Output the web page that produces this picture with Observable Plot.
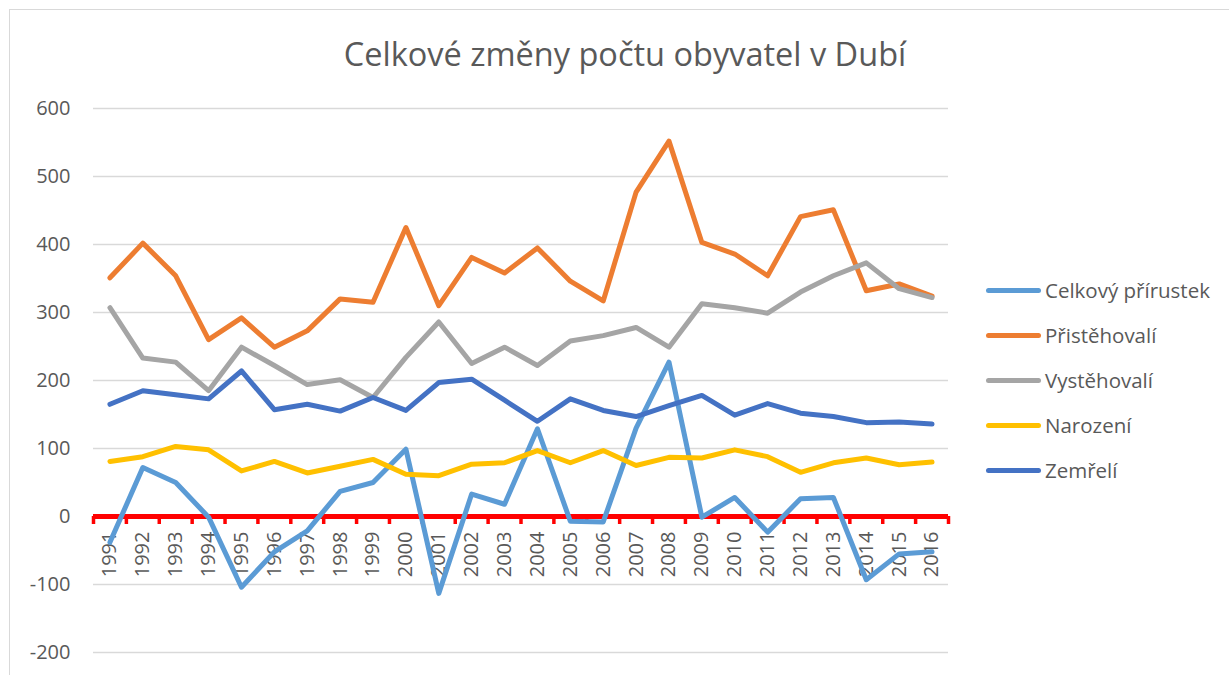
<!DOCTYPE html>
<html><head><meta charset="utf-8">
<script src="https://cdn.jsdelivr.net/npm/d3@7"></script>
<script src="https://cdn.jsdelivr.net/npm/@observablehq/plot@0.6"></script>
<style>
body{margin:0;background:#fff;font-family:"Open Sans",sans-serif;}
#wrap{position:relative;width:1229px;height:675px;overflow:hidden;background:#fff;}
#border{position:absolute;left:9px;top:9px;width:1260px;height:720px;border:1.5px solid #d9d9d9;box-sizing:border-box;}
#chart{position:absolute;left:0;top:0;}
#title{position:absolute;left:0;width:1250px;top:33px;text-align:center;font-size:32.5px;line-height:42px;color:#595959;}
.item{position:absolute;left:986px;height:26px;}
.sw{position:absolute;left:0;top:10.5px;width:55px;height:5px;border-radius:3px;}
.lb{position:absolute;left:59px;top:0;font-size:20.5px;line-height:26px;color:#595959;white-space:nowrap;}
</style></head>
<body>
<div id="wrap">
  <div id="border"></div>
  <div id="chart"></div>
  <div id="title"></div>
  <div id="legend"></div>
</div>
<script>
const titleText = "Celkové změny počtu obyvatel v Dubí";
const years = [1991,1992,1993,1994,1995,1996,1997,1998,1999,2000,2001,2002,2003,2004,2005,2006,2007,2008,2009,2010,2011,2012,2013,2014,2015,2016];
const seriesNames = ["Celkový přírustek","Přistěhovalí","Vystěhovalí","Narození","Zemřelí"];
const seriesColors = ["#5B9BD5","#ED7D31","#A5A5A5","#FFC000","#4472C4"];
const celkovy     = [-38, 72, 50, -1, -104, -52, -21, 37, 50, 99, -113, 33, 18, 129, -7, -8, 130, 227, -1, 28, -23, 26, 28, -93, -55, -52];
const pristehovali = [351, 402, 354, 260, 292, 249, 273, 320, 315, 425, 310, 381, 358, 395, 346, 317, 477, 552, 403, 386, 354, 441, 451, 332, 342, 324];
const vystehovali  = [307, 233, 227, 185, 249, 222, 194, 201, 175, 234, 286, 225, 249, 222, 258, 266, 278, 249, 313, 307, 299, 330, 354, 373, 335, 322];
const narozeni     = [81, 88, 103, 98, 67, 81, 64, 74, 84, 62, 60, 77, 79, 97, 79, 97, 75, 87, 86, 98, 88, 65, 79, 86, 76, 80];
const zemreli      = [165, 185, 179, 173, 214, 157, 165, 155, 175, 156, 197, 202, 171, 140, 173, 156, 147, 163, 178, 149, 166, 152, 147, 138, 139, 136];
const yTicks = [-200,-100,0,100,200,300,400,500,600];

const seriesValues = [celkovy, pristehovali, vystehovali, narozeni, zemreli];
const rows = [];
seriesNames.forEach((name, s) => {
  years.forEach((yr, i) => rows.push({series: name, year: yr, value: seriesValues[s][i]}));
});
const boundaries = years.map(y => y - 0.5).concat([years[years.length-1] + 0.5]);

const chart = Plot.plot({
  width: 1229, height: 675,
  marginLeft: 93, marginRight: 281, marginTop: 108, marginBottom: 23,
  x: {domain: [years[0] - 0.5, years[years.length-1] + 0.5], axis: null},
  y: {domain: [-200, 600], axis: null},
  color: {domain: seriesNames, range: seriesColors},
  style: {fontFamily: "Open Sans, sans-serif", color: "#595959", background: "transparent", overflow: "visible"},
  marks: [
    Plot.gridY(yTicks, {stroke: "#d9d9d9", strokeOpacity: 1, strokeWidth: 1.5}),
    Plot.axisY(yTicks, {tickSize: 0, tickPadding: 23, fontSize: 20, fill: "#595959", label: null, tickFormat: d => String(d)}),
    Plot.text(years, {x: d => d, y: 0, text: d => String(d), rotate: -90, textAnchor: "end", lineAnchor: "middle", dy: 15, fontSize: 20, fill: "#595959"}),
    Plot.ruleY([0], {stroke: "#FF0000", strokeWidth: 5}),
    Plot.ruleX(boundaries, {y1: 0, y2: 0, insetBottom: -8, stroke: "#FF0000", strokeWidth: 3.5}),
    Plot.line(rows, {x: "year", y: "value", z: "series", stroke: "series", strokeWidth: 5, strokeLinejoin: "round", strokeLinecap: "round"})
  ]
});
document.getElementById("chart").appendChild(chart);
document.getElementById("title").textContent = titleText;

const legendTops = [290, 335, 380, 425, 470];
const legend = document.getElementById("legend");
seriesNames.forEach((name, i) => {
  const it = document.createElement("div");
  it.className = "item";
  it.style.top = (legendTops[i] - 13) + "px";
  const sw = document.createElement("div");
  sw.className = "sw";
  sw.style.background = seriesColors[i];
  const lb = document.createElement("div");
  lb.className = "lb";
  lb.textContent = name;
  it.appendChild(sw); it.appendChild(lb);
  legend.appendChild(it);
});
</script>
</body></html>
